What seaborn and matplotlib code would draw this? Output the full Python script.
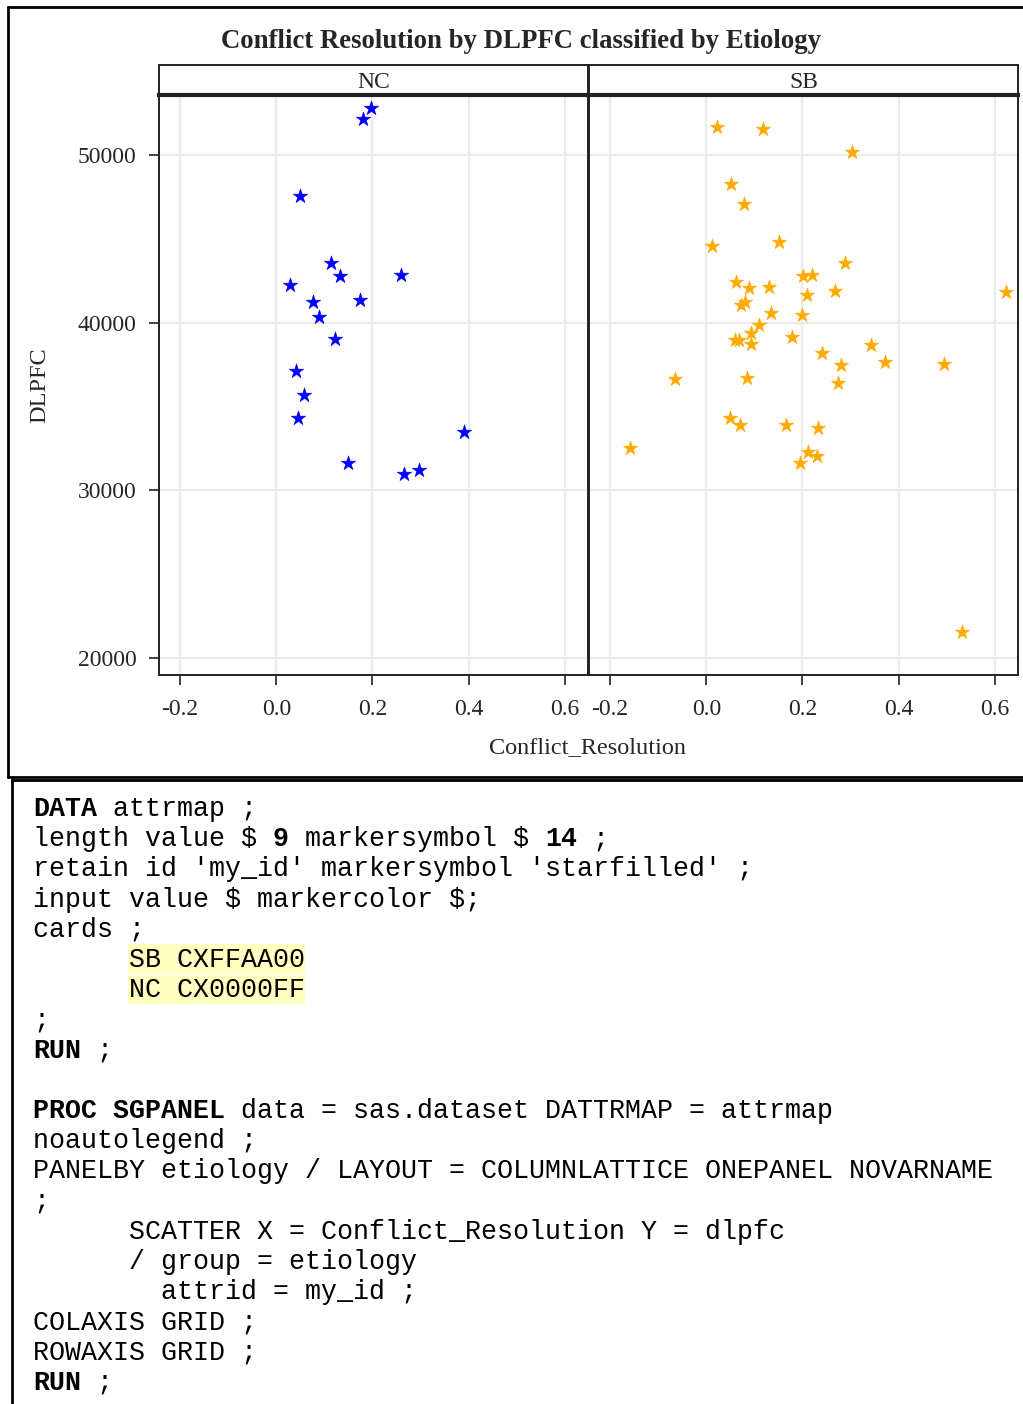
import matplotlib
matplotlib.use("Agg")
import matplotlib.pyplot as plt
import seaborn as sns
import pandas as pd
from matplotlib.lines import Line2D
from matplotlib.patches import Rectangle

# ---------------- data ----------------
nc_x = [0.196, 0.180, 0.049, 0.114, 0.132, 0.259, 0.028, 0.077, 0.173, 0.089,
        0.122, 0.042, 0.058, 0.046, 0.391, 0.149, 0.266, 0.296]
nc_y = [52820, 52147, 47537, 43542, 42785, 42844, 42248, 41234, 41335, 40358,
        39028, 37102, 35670, 34317, 33464, 31652, 30996, 31235]

sb_x = [0.022, 0.117, 0.302, 0.052, 0.079, 0.012, 0.152, 0.289, 0.062, 0.202,
        0.220, 0.089, 0.130, 0.267, 0.210, 0.623, 0.081, 0.072, 0.134, 0.200,
        0.109, 0.092, 0.179, 0.059, 0.069, 0.094, 0.343, 0.240, 0.281, 0.371,
        0.495, -0.064, 0.085, 0.274, 0.049, 0.071, 0.166, 0.232, -0.159, 0.212,
        0.230, 0.194, 0.531]
sb_y = [51652, 51570, 50179, 48253, 47078, 44556, 44794, 43542, 42445, 42803,
        42844, 42069, 42111, 41890, 41652, 41849, 41234, 41055, 40596, 40459,
        39863, 39404, 39129, 38950, 38986, 38712, 38670, 38211, 37478, 37656,
        37556, 36643, 36720, 36386, 34335, 33900, 33918, 33721, 32528, 32272,
        32070, 31616, 21556]

panels = ["NC", "SB"]
colors = {"NC": "#0000FF", "SB": "#FFAA00"}
x_ticks = [-0.2, 0.0, 0.2, 0.4, 0.6]
x_tick_labels = ["-0.2", "0.0", "0.2", "0.4", "0.6"]
y_ticks = [20000, 30000, 40000, 50000]
y_tick_labels = ["20000", "30000", "40000", "50000"]

title = "Conflict Resolution by DLPFC classified by Etiology"
x_label = "Conflict_Resolution"
y_label = "DLPFC"

# code listing: list of segments (text, bold) per line, and column offset
code_lines = [
    (0, [("DATA", True), (" attrmap ;", False)]),
    (0, [("length value $ ", False), ("9", True), (" markersymbol $ ", False), ("14", True), (" ;", False)]),
    (0, [("retain id 'my_id' markersymbol 'starfilled' ;", False)]),
    (0, [("input value $ markercolor $;", False)]),
    (0, [("cards ;", False)]),
    (6, [("SB CXFFAA00", False)]),
    (6, [("NC CX0000FF", False)]),
    (0, [(";", False)]),
    (0, [("RUN", True), (" ;", False)]),
    (0, []),
    (0, [("PROC SGPANEL", True), (" data = sas.dataset DATTRMAP = attrmap", False)]),
    (0, [("noautolegend ;", False)]),
    (0, [("PANELBY etiology / LAYOUT = COLUMNLATTICE ONEPANEL NOVARNAME", False)]),
    (0, [(";", False)]),
    (6, [("SCATTER X = Conflict_Resolution Y = dlpfc", False)]),
    (6, [("/ group = etiology", False)]),
    (8, [("attrid = my_id ;", False)]),
    (0, [("COLAXIS GRID ;", False)]),
    (0, [("ROWAXIS GRID ;", False)]),
    (0, [("RUN", True), (" ;", False)]),
]

df = pd.DataFrame({
    "Conflict_Resolution": nc_x + sb_x,
    "DLPFC": nc_y + sb_y,
    "etiology": ["NC"] * len(nc_x) + ["SB"] * len(sb_x),
})

# ---------------- style ----------------
sns.set_style("white")
plt.rcParams["font.family"] = ["Liberation Serif", "DejaVu Serif"]
plt.rcParams["text.parse_math"] = False

W, H = 1023, 1404
fig = plt.figure(figsize=(W / 100, H / 100), dpi=100)
fig.patch.set_facecolor("white")

def fx(px):
    return px / W

def fy(py):
    return 1 - py / H

def hline(x0, x1, y, lw=2.0, color="black"):
    fig.add_artist(Line2D([fx(x0), fx(x1)], [fy(y), fy(y)], transform=fig.transFigure,
                          color=color, lw=lw, solid_capstyle="butt"))

def vline(x, y0, y1, lw=2.0, color="black"):
    fig.add_artist(Line2D([fx(x), fx(x)], [fy(y0), fy(y1)], transform=fig.transFigure,
                          color=color, lw=lw, solid_capstyle="butt"))

# panel geometry (pixels)
panel_px = {"NC": (159, 588), "SB": (589, 1018)}
top_px, bot_px = 95, 675
strip_top = 65

xlim = (-0.2 - 21 / 480.0, 0.6 + 23 / 480.0)
ylim = (20000 - 17 / 16.77 * 1000, 50000 + 60 / 16.77 * 1000)

edge = "#222222"
for name in panels:
    l, r = panel_px[name]
    ax = fig.add_axes([fx(l), fy(bot_px), (r - l) / W, (bot_px - top_px) / H])
    sub = df[df["etiology"] == name]
    sns.scatterplot(data=sub, x="Conflict_Resolution", y="DLPFC", ax=ax,
                    marker="*", s=120, color=colors[name], edgecolor=colors[name],
                    linewidth=0.4, legend=False, zorder=3)
    ax.set_xlim(*xlim)
    ax.set_ylim(*ylim)
    ax.set_xticks(x_ticks)
    ax.set_xticklabels(x_tick_labels)
    ax.set_yticks(y_ticks)
    ax.set_yticklabels(y_tick_labels)
    ax.grid(True, color="#EBEBEB", lw=1.6)
    ax.set_axisbelow(True)
    ax.set_xlabel("")
    ax.set_ylabel("")
    for sp in ax.spines.values():
        sp.set_color(edge)
        sp.set_linewidth(1.4)
    ax.tick_params(axis="x", which="both", bottom=True, length=7, width=1.2,
                   color=edge, labelsize=17, pad=10, direction="out")
    if name == "NC":
        ax.tick_params(axis="y", left=True, length=7, width=1.2, color=edge,
                       labelsize=17, pad=9, direction="out")
    else:
        ax.tick_params(axis="y", left=False, labelleft=False)

    # strip header
    sax = fig.add_axes([fx(l), fy(top_px), (r - l) / W, (top_px - strip_top) / H])
    sax.set_xticks([])
    sax.set_yticks([])
    for sp in sax.spines.values():
        sp.set_color(edge)
        sp.set_linewidth(1.4)
    sax.spines["bottom"].set_linewidth(3.0)
    sax.text(0.5, 0.42, name, ha="center", va="center", fontsize=17,
             transform=sax.transAxes)

# title and axis labels
fig.text(fx(521), fy(42), title, ha="center", va="center", fontsize=19.3,
         fontweight="bold")
fig.text(fx(588), fy(748), x_label, ha="center", va="center", fontsize=17.5)
fig.text(fx(40), fy(385), y_label, ha="center", va="center", fontsize=17.5,
         rotation=90)

# outer chart frame
hline(7, 1023, 7, lw=2.0)
vline(8, 6, 778, lw=2.0)
hline(7, 1023, 777, lw=2.0)

# code box frame
hline(11, 1023, 780, lw=2.0)
vline(12, 779, 1404, lw=2.0)

# highlight behind the colour cards
fig.add_artist(Rectangle((fx(128), fy(1004)), (305 - 128) / W, (1004 - 944) / H,
                         transform=fig.transFigure, facecolor="#FFFFC0",
                         edgecolor="none", zorder=0))
hline(128, 305, 974, lw=1.0, color="white")

# code text
mono = ["Liberation Mono", "DejaVu Sans Mono"]
cw = 16.0
y0 = 806
dy = 30.2
for i, (col, segs) in enumerate(code_lines):
    y = y0 + i * dy
    c = col
    for text, bold in segs:
        fig.text(fx(33 + c * cw), fy(y), text, ha="left", va="center_baseline",
                 fontsize=19.2, family=mono, fontweight="bold" if bold else "normal",
                 color="black", parse_math=False)
        c += len(text)

fig.savefig("out.png", dpi=100, facecolor="white")
